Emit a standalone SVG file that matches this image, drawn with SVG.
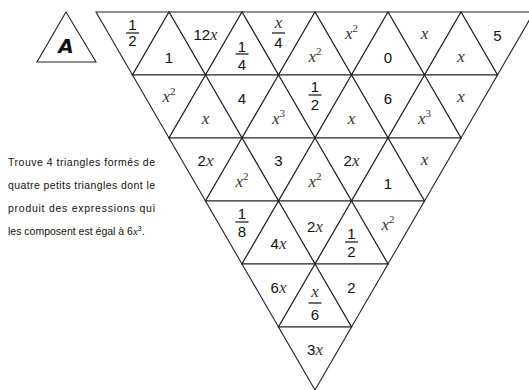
<svg xmlns="http://www.w3.org/2000/svg" width="529" height="390" viewBox="0 0 529 390">
<style>
.t{fill:#fff;stroke:#222;stroke-width:1.1;stroke-linejoin:miter}
.n{font-family:"Liberation Sans",Arial,sans-serif;font-size:15px;fill:#111;text-anchor:middle}
.v{font-family:"Liberation Serif","Times New Roman",serif;font-style:italic;font-size:17px;fill:#333}
.s{font-family:"Liberation Serif","Times New Roman",serif;font-style:normal;font-size:11px;fill:#333}
.b{stroke:#222;stroke-width:1.3}
.p{font-family:"Liberation Sans",Arial,sans-serif;font-size:10.5px;fill:#111}
</style>
<rect width="529" height="390" fill="#fff"/>
<g id="title">
<polygon class="t" points="66,12 37,62 96,62"/>
<text x="66" y="53" style="font-family:'DejaVu Sans',sans-serif;font-weight:bold;font-size:20px;font-style:italic;text-anchor:middle;fill:#111">A</text>
</g>
<g id="instructions">
<text class="p" x="8" y="166" textLength="147" lengthAdjust="spacing">Trouve 4 triangles formés de</text>
<text class="p" x="8" y="189" textLength="147" lengthAdjust="spacing">quatre petits triangles dont le</text>
<text class="p" x="8" y="212" textLength="147" lengthAdjust="spacing">produit des expressions qui</text>
<text class="p" x="8" y="235">les composent est égal à 6<tspan style="font-family:'Liberation Serif',serif;font-style:italic;font-size:11px">x</tspan><tspan font-size="7" dy="-4">3</tspan><tspan dy="4">.</tspan></text>
</g>
<g id="grid">
<!-- Row 0 -->
<g id="r0d0"><polygon class="t" points="96,12 169,12 132.5,75"/><text class="n" x="132.5" y="30">1</text><line class="b" x1="126" y1="33" x2="139" y2="33"/><text class="n" x="132.5" y="46">2</text></g>
<g id="r0d1"><polygon class="t" points="169,12 242,12 205.5,75"/><text class="n" x="205.5" y="40">12<tspan class="v">x</tspan></text></g>
<g id="r0d2"><polygon class="t" points="242,12 315,12 278.5,75"/><text class="n v" x="278.5" y="28">x</text><line class="b" x1="272" y1="33" x2="285" y2="33"/><text class="n" x="278.5" y="48">4</text></g>
<g id="r0d3"><polygon class="t" points="315,12 388,12 351.5,75"/><text class="n v" x="351.5" y="39">x<tspan class="s" dy="-7">2</tspan></text></g>
<g id="r0d4"><polygon class="t" points="388,12 461,12 424.5,75"/><text class="n v" x="424.5" y="39">x</text></g>
<g id="r0d5"><polygon class="t" points="461,12 534,12 497.5,75"/><text class="n" x="497.5" y="41">5</text></g>
<g id="r0u0"><polygon class="t" points="132.5,75 205.5,75 169,12"/><text class="n" x="169" y="63">1</text></g>
<g id="r0u1"><polygon class="t" points="205.5,75 278.5,75 242,12"/><text class="n" x="242" y="52">1</text><line class="b" x1="235.5" y1="54" x2="248.5" y2="54"/><text class="n" x="242" y="70">4</text></g>
<g id="r0u2"><polygon class="t" points="278.5,75 351.5,75 315,12"/><text class="n v" x="315" y="62">x<tspan class="s" dy="-7">2</tspan></text></g>
<g id="r0u3"><polygon class="t" points="351.5,75 424.5,75 388,12"/><text class="n" x="388" y="63">0</text></g>
<g id="r0u4"><polygon class="t" points="424.5,75 497.5,75 461,12"/><text class="n v" x="461" y="62">x</text></g>
<!-- Row 1 -->
<g id="r1d0"><polygon class="t" points="132.5,75 205.5,75 169,138"/><text class="n v" x="169" y="102">x<tspan class="s" dy="-7">2</tspan></text></g>
<g id="r1d1"><polygon class="t" points="205.5,75 278.5,75 242,138"/><text class="n" x="242" y="104">4</text></g>
<g id="r1d2"><polygon class="t" points="278.5,75 351.5,75 315,138"/><text class="n" x="315" y="92">1</text><line class="b" x1="308.5" y1="95" x2="321.5" y2="95"/><text class="n" x="315" y="110">2</text></g>
<g id="r1d3"><polygon class="t" points="351.5,75 424.5,75 388,138"/><text class="n" x="388" y="104">6</text></g>
<g id="r1d4"><polygon class="t" points="424.5,75 497.5,75 461,138"/><text class="n v" x="461" y="102">x</text></g>
<g id="r1u0"><polygon class="t" points="169,138 242,138 205.5,75"/><text class="n v" x="205.5" y="124">x</text></g>
<g id="r1u1"><polygon class="t" points="242,138 315,138 278.5,75"/><text class="n v" x="278.5" y="124">x<tspan class="s" dy="-7">3</tspan></text></g>
<g id="r1u2"><polygon class="t" points="315,138 388,138 351.5,75"/><text class="n v" x="351.5" y="124">x</text></g>
<g id="r1u3"><polygon class="t" points="388,138 461,138 424.5,75"/><text class="n v" x="424.5" y="124">x<tspan class="s" dy="-7">3</tspan></text></g>
<!-- Row 2 -->
<g id="r2d0"><polygon class="t" points="169,138 242,138 205.5,201"/><text class="n" x="205.5" y="166">2<tspan class="v">x</tspan></text></g>
<g id="r2d1"><polygon class="t" points="242,138 315,138 278.5,201"/><text class="n" x="278.5" y="166">3</text></g>
<g id="r2d2"><polygon class="t" points="315,138 388,138 351.5,201"/><text class="n" x="351.5" y="166">2<tspan class="v">x</tspan></text></g>
<g id="r2d3"><polygon class="t" points="388,138 461,138 424.5,201"/><text class="n v" x="424.5" y="165">x</text></g>
<g id="r2u0"><polygon class="t" points="205.5,201 278.5,201 242,138"/><text class="n v" x="242" y="187">x<tspan class="s" dy="-7">2</tspan></text></g>
<g id="r2u1"><polygon class="t" points="278.5,201 351.5,201 315,138"/><text class="n v" x="315" y="187">x<tspan class="s" dy="-7">2</tspan></text></g>
<g id="r2u2"><polygon class="t" points="351.5,201 424.5,201 388,138"/><text class="n" x="388" y="189">1</text></g>
<!-- Row 3 -->
<g id="r3d0"><polygon class="t" points="205.5,201 278.5,201 242,264"/><text class="n" x="242" y="219">1</text><line class="b" x1="235.5" y1="222" x2="248.5" y2="222"/><text class="n" x="242" y="237">8</text></g>
<g id="r3d1"><polygon class="t" points="278.5,201 351.5,201 315,264"/><text class="n" x="315" y="232">2<tspan class="v">x</tspan></text></g>
<g id="r3d2"><polygon class="t" points="351.5,201 424.5,201 388,264"/><text class="n v" x="388" y="230">x<tspan class="s" dy="-7">2</tspan></text></g>
<g id="r3u0"><polygon class="t" points="242,264 315,264 278.5,201"/><text class="n" x="278.5" y="249">4<tspan class="v">x</tspan></text></g>
<g id="r3u1"><polygon class="t" points="315,264 388,264 351.5,201"/><text class="n" x="351.5" y="239">1</text><line class="b" x1="345" y1="242" x2="358" y2="242"/><text class="n" x="351.5" y="257">2</text></g>
<!-- Row 4 -->
<g id="r4d0"><polygon class="t" points="242,264 315,264 278.5,327"/><text class="n" x="278.5" y="293">6<tspan class="v">x</tspan></text></g>
<g id="r4d1"><polygon class="t" points="315,264 388,264 351.5,327"/><text class="n" x="351.5" y="293">2</text></g>
<g id="r4u0"><polygon class="t" points="278.5,327 351.5,327 315,264"/><text class="n v" x="315" y="297">x</text><line class="b" x1="308.5" y1="303" x2="321.5" y2="303"/><text class="n" x="315" y="320">6</text></g>
<!-- Row 5 -->
<g id="r5d0"><polygon class="t" points="278.5,327 351.5,327 315,390"/><text class="n" x="315" y="355">3<tspan class="v">x</tspan></text></g>
</g>
</svg>
